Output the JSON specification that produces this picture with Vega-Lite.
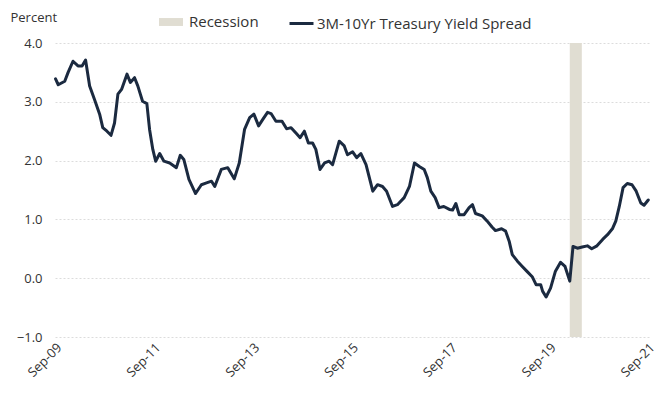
{
  "$schema": "https://vega.github.io/schema/vega-lite/v6.json",
  "width": 595,
  "height": 294,
  "autosize": {"type": "none"},
  "padding": {"left": 55, "top": 43, "right": 15, "bottom": 63},
  "background": "white",
  "config": {
    "font": "Open Sans",
    "view": {"stroke": null},
    "axis": {"labelFont": "Open Sans", "titleFont": "Open Sans"},
    "legend": {"labelFont": "Open Sans", "labelLimit": 0}
  },
  "datasets": {
    "spread": [
      {"date": "2009-09-05", "value": 3.39},
      {"date": "2009-09-25", "value": 3.29},
      {"date": "2009-11-12", "value": 3.35},
      {"date": "2009-12-07", "value": 3.5},
      {"date": "2010-01-12", "value": 3.69},
      {"date": "2010-02-18", "value": 3.61},
      {"date": "2010-03-20", "value": 3.61},
      {"date": "2010-04-15", "value": 3.71},
      {"date": "2010-05-15", "value": 3.27},
      {"date": "2010-06-20", "value": 3.04},
      {"date": "2010-07-28", "value": 2.79},
      {"date": "2010-08-20", "value": 2.56},
      {"date": "2010-09-20", "value": 2.5},
      {"date": "2010-10-20", "value": 2.43},
      {"date": "2010-11-15", "value": 2.64},
      {"date": "2010-12-10", "value": 3.13},
      {"date": "2011-01-06", "value": 3.21},
      {"date": "2011-02-15", "value": 3.47},
      {"date": "2011-03-12", "value": 3.33},
      {"date": "2011-04-12", "value": 3.41},
      {"date": "2011-05-06", "value": 3.27},
      {"date": "2011-06-10", "value": 3.01},
      {"date": "2011-07-12", "value": 2.97},
      {"date": "2011-08-01", "value": 2.53},
      {"date": "2011-08-25", "value": 2.19},
      {"date": "2011-09-15", "value": 1.99},
      {"date": "2011-10-15", "value": 2.12},
      {"date": "2011-11-15", "value": 1.99},
      {"date": "2011-12-28", "value": 1.96},
      {"date": "2012-02-15", "value": 1.88},
      {"date": "2012-03-15", "value": 2.09},
      {"date": "2012-04-10", "value": 2.02},
      {"date": "2012-05-18", "value": 1.68},
      {"date": "2012-07-06", "value": 1.44},
      {"date": "2012-08-18", "value": 1.59},
      {"date": "2012-09-25", "value": 1.62},
      {"date": "2012-11-01", "value": 1.65},
      {"date": "2012-11-25", "value": 1.56},
      {"date": "2013-01-12", "value": 1.85},
      {"date": "2013-03-01", "value": 1.88},
      {"date": "2013-04-18", "value": 1.69},
      {"date": "2013-05-25", "value": 1.96},
      {"date": "2013-07-03", "value": 2.53},
      {"date": "2013-08-10", "value": 2.73},
      {"date": "2013-09-10", "value": 2.79},
      {"date": "2013-10-15", "value": 2.59},
      {"date": "2013-11-15", "value": 2.7},
      {"date": "2013-12-20", "value": 2.82},
      {"date": "2014-01-15", "value": 2.8},
      {"date": "2014-02-20", "value": 2.67},
      {"date": "2014-04-06", "value": 2.67},
      {"date": "2014-05-10", "value": 2.54},
      {"date": "2014-06-12", "value": 2.56},
      {"date": "2014-07-18", "value": 2.47},
      {"date": "2014-08-18", "value": 2.39},
      {"date": "2014-09-18", "value": 2.5},
      {"date": "2014-10-18", "value": 2.3},
      {"date": "2014-11-18", "value": 2.3},
      {"date": "2014-12-12", "value": 2.19},
      {"date": "2015-01-12", "value": 1.85},
      {"date": "2015-02-15", "value": 1.96},
      {"date": "2015-03-20", "value": 1.99},
      {"date": "2015-04-15", "value": 1.93},
      {"date": "2015-06-03", "value": 2.33},
      {"date": "2015-07-10", "value": 2.25},
      {"date": "2015-08-03", "value": 2.1},
      {"date": "2015-09-10", "value": 2.15},
      {"date": "2015-10-10", "value": 2.05},
      {"date": "2015-11-10", "value": 2.12},
      {"date": "2015-12-18", "value": 1.93},
      {"date": "2016-02-06", "value": 1.48},
      {"date": "2016-03-12", "value": 1.59},
      {"date": "2016-04-18", "value": 1.56},
      {"date": "2016-05-18", "value": 1.48},
      {"date": "2016-07-01", "value": 1.22},
      {"date": "2016-08-06", "value": 1.25},
      {"date": "2016-09-25", "value": 1.37},
      {"date": "2016-11-03", "value": 1.56},
      {"date": "2016-12-10", "value": 1.96},
      {"date": "2017-01-15", "value": 1.9},
      {"date": "2017-02-20", "value": 1.85},
      {"date": "2017-03-15", "value": 1.71},
      {"date": "2017-04-10", "value": 1.48},
      {"date": "2017-05-12", "value": 1.37},
      {"date": "2017-06-10", "value": 1.2},
      {"date": "2017-07-15", "value": 1.22},
      {"date": "2017-08-25", "value": 1.17},
      {"date": "2017-09-18", "value": 1.16},
      {"date": "2017-10-12", "value": 1.27},
      {"date": "2017-11-06", "value": 1.08},
      {"date": "2017-12-12", "value": 1.08},
      {"date": "2018-01-18", "value": 1.2},
      {"date": "2018-02-12", "value": 1.25},
      {"date": "2018-03-06", "value": 1.1},
      {"date": "2018-04-25", "value": 1.06},
      {"date": "2018-06-01", "value": 0.97},
      {"date": "2018-07-06", "value": 0.87},
      {"date": "2018-08-01", "value": 0.81},
      {"date": "2018-09-15", "value": 0.84},
      {"date": "2018-10-15", "value": 0.8},
      {"date": "2018-11-10", "value": 0.63},
      {"date": "2018-12-03", "value": 0.4},
      {"date": "2019-01-10", "value": 0.29},
      {"date": "2019-02-15", "value": 0.2},
      {"date": "2019-03-20", "value": 0.12},
      {"date": "2019-05-01", "value": 0.02},
      {"date": "2019-05-28", "value": -0.11},
      {"date": "2019-07-01", "value": -0.11},
      {"date": "2019-07-15", "value": -0.22},
      {"date": "2019-08-10", "value": -0.32},
      {"date": "2019-09-12", "value": -0.17},
      {"date": "2019-10-18", "value": 0.12},
      {"date": "2019-11-25", "value": 0.27},
      {"date": "2019-12-28", "value": 0.2},
      {"date": "2020-02-01", "value": -0.05},
      {"date": "2020-02-25", "value": 0.54},
      {"date": "2020-03-28", "value": 0.51},
      {"date": "2020-05-03", "value": 0.53},
      {"date": "2020-06-10", "value": 0.55},
      {"date": "2020-07-12", "value": 0.5},
      {"date": "2020-08-20", "value": 0.55},
      {"date": "2020-10-01", "value": 0.66},
      {"date": "2020-11-06", "value": 0.74},
      {"date": "2020-12-12", "value": 0.84},
      {"date": "2021-01-06", "value": 0.97},
      {"date": "2021-02-01", "value": 1.22},
      {"date": "2021-03-01", "value": 1.54},
      {"date": "2021-04-01", "value": 1.61},
      {"date": "2021-05-06", "value": 1.59},
      {"date": "2021-06-06", "value": 1.48},
      {"date": "2021-07-10", "value": 1.28},
      {"date": "2021-08-03", "value": 1.24},
      {"date": "2021-09-03", "value": 1.33}
    ],
    "recession": [
      {"start": "2020-02-01", "end": "2020-04-30", "series": "Recession"}
    ]
  },
  "encoding": {
    "x": {
      "field": "date",
      "type": "temporal",
      "scale": {
        "type": "utc",
        "domain": [
          {"year": 2009, "month": 9, "date": 1, "utc": true},
          {"year": 2021, "month": 9, "date": 16, "utc": true}
        ]
      },
      "axis": {
        "title": null,
        "values": [
          {"year": 2009, "month": 9, "date": 1, "utc": true},
          {"year": 2011, "month": 9, "date": 1, "utc": true},
          {"year": 2013, "month": 9, "date": 1, "utc": true},
          {"year": 2015, "month": 9, "date": 1, "utc": true},
          {"year": 2017, "month": 9, "date": 1, "utc": true},
          {"year": 2019, "month": 9, "date": 1, "utc": true},
          {"year": 2021, "month": 9, "date": 1, "utc": true}
        ],
        "format": "%b-%y",
        "labelAngle": -45,
        "labelAlign": "right",
        "labelBaseline": "top",
        "labelPadding": 4,
        "labelFontSize": 13,
        "labelColor": "#333333",
        "domain": false,
        "ticks": false,
        "grid": false
      }
    }
  },
  "layer": [
    {
      "data": {"name": "recession"},
      "mark": {"type": "rect", "opacity": 1},
      "encoding": {
        "x": {"field": "start", "type": "temporal"},
        "x2": {"field": "end"},
        "fill": {
          "field": "series",
          "type": "nominal",
          "scale": {"domain": ["Recession"], "range": ["#e0ddd2"]},
          "legend": {
            "title": null,
            "orient": "none",
            "direction": "horizontal",
            "legendX": 104,
            "legendY": -33,
            "labelFontSize": 15,
            "labelColor": "#333333",
            "labelOffset": 6,
            "symbolType": "M-1,-0.33H1V0.33H-1Z",
            "symbolSize": 576,
            "symbolStrokeWidth": 0,
            "symbolOpacity": 1
          }
        }
      }
    },
    {
      "data": {"name": "spread"},
      "mark": {"type": "line", "strokeWidth": 3, "strokeJoin": "round", "strokeCap": "round"},
      "encoding": {
        "y": {
          "field": "value",
          "type": "quantitative",
          "scale": {"domain": [-1, 4], "nice": false, "zero": false},
          "axis": {
            "values": [-1, 0, 1, 2, 3, 4],
            "format": ".1f",
            "title": "Percent",
            "titleAngle": 0,
            "titleAlign": "left",
            "titleBaseline": "middle",
            "titleX": -45,
            "titleY": -26,
            "titleFontSize": 13,
            "titleFontWeight": "normal",
            "titleColor": "#333333",
            "labelFontSize": 13,
            "labelColor": "#333333",
            "labelPadding": 13,
            "domain": false,
            "ticks": false,
            "grid": true,
            "gridColor": "#dcdcdc",
            "gridDash": [2, 2],
            "gridWidth": 1
          }
        },
        "stroke": {
          "datum": "3M-10Yr Treasury Yield Spread",
          "type": "nominal",
          "scale": {"domain": ["3M-10Yr Treasury Yield Spread"], "range": ["#1b2a40"]},
          "legend": {
            "title": null,
            "orient": "none",
            "direction": "horizontal",
            "legendX": 233,
            "legendY": -33,
            "labelFontSize": 15,
            "labelColor": "#333333",
            "labelOffset": 2,
            "symbolType": "stroke",
            "symbolSize": 576,
            "symbolStrokeWidth": 3
          }
        }
      }
    }
  ]
}
